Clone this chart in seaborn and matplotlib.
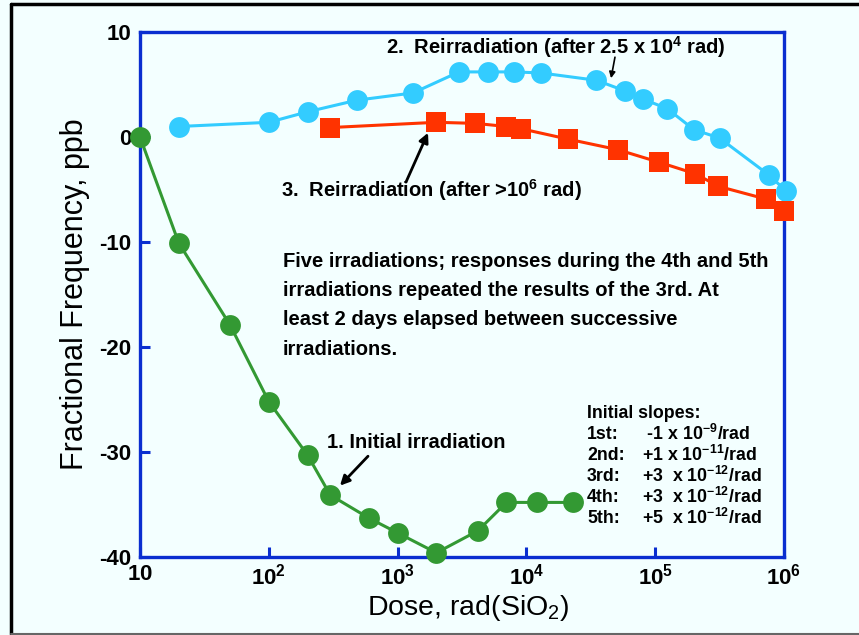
import numpy as np
import pandas as pd
import seaborn as sns
import matplotlib.pyplot as plt
from matplotlib.lines import Line2D

# data
dose_1 = [10, 20, 50, 100, 200, 300, 600, 1000, 2000, 4200, 7000, 12000, 23000]
ppb_1 = [0, -10.1, -17.9, -25.2, -30.3, -34.1, -36.3, -37.7, -39.6, -37.5, -34.8, -34.8, -34.8]

dose_2 = [20, 100, 200, 480, 1320, 3000, 5000, 8000, 13000, 35000, 58000, 81000,
          124000, 200000, 316000, 760000, 1.03e6]
ppb_2 = [1.0, 1.4, 2.4, 3.5, 4.2, 6.2, 6.2, 6.2, 6.1, 5.4, 4.4, 3.6, 2.7, 0.7, -0.1, -3.6, -5.1]

dose_3 = [300, 2000, 4000, 7000, 9000, 21000, 51000, 107000, 205000, 310000, 720000, 1.0e6]
ppb_3 = [0.9, 1.4, 1.3, 1.0, 0.8, -0.2, -1.2, -2.4, -3.5, -4.7, -5.9, -7.0]

x_ticks = [10, 1e2, 1e3, 1e4, 1e5, 1e6]
x_labels = [r'$\mathbf{10}$', r'$\mathbf{10^2}$', r'$\mathbf{10^3}$',
            r'$\mathbf{10^4}$', r'$\mathbf{10^5}$', r'$\mathbf{10^6}$']
y_ticks = [10, 0, -10, -20, -30, -40]

slope_names = ['1st:', '2nd:', '3rd:', '4th:', '5th:']
slope_values = [r' -1 x 10$^{\mathbf{-9}}$/rad', r'+1 x 10$^{\mathbf{-11}}$/rad',
                r'+3  x 10$^{\mathbf{-12}}$/rad', r'+3  x 10$^{\mathbf{-12}}$/rad',
                r'+5  x 10$^{\mathbf{-12}}$/rad']

bg = '#F3FFFF'
blue = '#0A2ED0'
green = '#339933'
cyan = '#33CCFF'
red = '#FF3300'

sns.set_theme(style='white')
plt.rcParams['font.family'] = ['Liberation Sans', 'DejaVu Sans']
plt.rcParams['mathtext.fontset'] = 'custom'
plt.rcParams['mathtext.rm'] = 'Liberation Sans'
plt.rcParams['mathtext.bf'] = 'Liberation Sans:bold'
plt.rcParams['text.color'] = 'black'
plt.rcParams['axes.labelcolor'] = 'black'
plt.rcParams['xtick.color'] = 'black'
plt.rcParams['ytick.color'] = 'black'

fig = plt.figure(figsize=(8.59, 6.35), dpi=100, facecolor=bg)
ax = fig.add_axes([0.163, 0.1228, 0.7497, 0.8268])
ax.set_facecolor(bg)

df1 = pd.DataFrame({'dose': dose_1, 'ppb': ppb_1})
df2 = pd.DataFrame({'dose': dose_2, 'ppb': ppb_2})
df3 = pd.DataFrame({'dose': dose_3, 'ppb': ppb_3})

sns.lineplot(data=df2, x='dose', y='ppb', ax=ax, color=cyan, linewidth=2.2,
             marker='o', markersize=15, markeredgewidth=0, clip_on=False, zorder=3)
sns.lineplot(data=df3, x='dose', y='ppb', ax=ax, color=red, linewidth=2.2,
             marker='s', markersize=14, markeredgewidth=0, clip_on=False, zorder=4)
sns.lineplot(data=df1, x='dose', y='ppb', ax=ax, color=green, linewidth=2.2,
             marker='o', markersize=15, markeredgewidth=0, clip_on=False, zorder=5)

ax.set_xscale('log')
ax.set_xlim(10, 1e6)
ax.set_ylim(-40, 10)
ax.set_xticks(x_ticks)
ax.set_xticklabels(x_labels)
ax.set_yticks(y_ticks)
ax.set_yticklabels([str(v) for v in y_ticks], fontweight='bold')
ax.minorticks_off()
ax.tick_params(axis='both', which='major', direction='in', length=7, width=2.2,
               color=blue, labelcolor='black', labelsize=16, bottom=True, left=True)
ax.tick_params(axis='y', pad=6)
ax.tick_params(axis='x', pad=5)
for s in ax.spines.values():
    s.set_color(blue)
    s.set_linewidth(2.4)

ax.set_xlabel(r'Dose, rad(SiO$_2$)', fontsize=20.5)
ax.set_ylabel('Fractional Frequency, ppb', fontsize=22)
ax.xaxis.set_label_coords(0.509, -0.068)
ax.yaxis.set_label_coords(-0.078, 0.501)

# annotations
tb = dict(fontsize=14.5, fontweight='bold', transform=ax.transAxes, va='center', ha='left')
ax.text(0.290, 0.219, '1. Initial irradiation', **tb)
ax.text(0.382, 0.971, r'2.  Reirradiation (after 2.5 x 10$^{\mathbf{4}}$ rad)', **tb)
ax.text(0.219, 0.699, r'3.  Reirradiation (after >10$^{\mathbf{6}}$ rad)', **tb)
ax.text(0.222, 0.581,
        'Five irradiations; responses during the 4th and 5th\n'
        'irradiations repeated the results of the 3rd. At\n'
        'least 2 days elapsed between successive\n'
        'irradiations.',
        fontsize=14.5, fontweight='bold', transform=ax.transAxes, va='top', ha='left',
        linespacing=1.68)

ap = dict(arrowstyle='-|>', color='black', lw=2, mutation_scale=14, shrinkA=0, shrinkB=0)
ax.annotate('', xy=(357, -33.2), xytext=(589, -30.4), arrowprops=ap)
ax.annotate('', xy=(1722, 0.4), xytext=(1161, -4.3), arrowprops=ap)
ax.annotate('', xy=(45400, 5.6), xytext=(48700, 7.6),
            arrowprops=dict(arrowstyle='-|>', color='black', lw=1.2, mutation_scale=9,
                            shrinkA=0, shrinkB=0))

sb = dict(fontsize=12.8, fontweight='bold', transform=ax.transAxes, va='center', ha='left')
ax.text(0.694, 0.274, 'Initial slopes:', **sb)
for i, (n, v) in enumerate(zip(slope_names, slope_values)):
    fy = 0.234 - 0.04 * i
    ax.text(0.694, fy, n, **sb)
    ax.text(0.780, fy, v, **sb)

# outer frame
fig.add_artist(Line2D([11 / 859, 11 / 859], [1 - 4 / 635, 1 - 634 / 635], color='black', lw=2.5))
fig.add_artist(Line2D([11 / 859, 1.0], [1 - 4 / 635, 1 - 4 / 635], color='black', lw=2.5))
fig.add_artist(Line2D([11 / 859, 1.0], [1 - 634 / 635, 1 - 634 / 635], color='#666666', lw=1.5))

fig.savefig('out.png', dpi=100, facecolor=bg)
